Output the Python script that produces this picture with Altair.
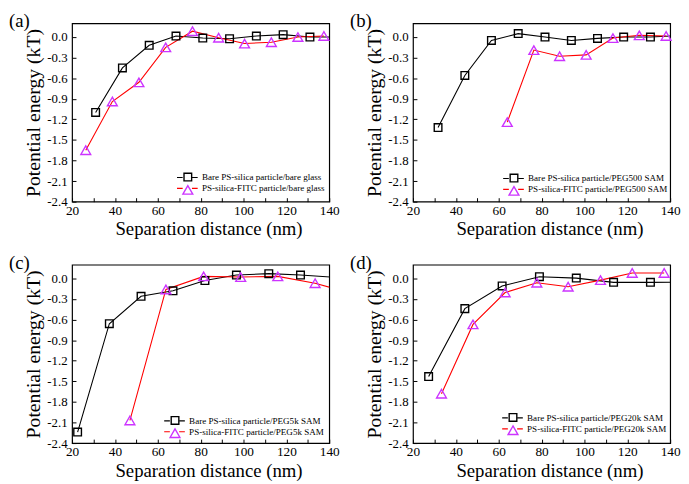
import altair as alt
import pandas as pd

FONT = "Liberation Serif"
MAGENTA = "#CC33FF"

# ---------------- data ----------------
x_ticks = [20, 40, 60, 80, 100, 120, 140]
x_minor = [20, 30, 40, 50, 60, 70, 80, 90, 100, 110, 120, 130, 140]
y_ticks = [-2.4, -2.1, -1.8, -1.5, -1.2, -0.9, -0.6, -0.3, 0.0]

# (a) bare glass
a_bare_label = "Bare PS-silica particle/bare glass"
a_bare_x = [31.0, 43.5, 56.0, 68.5, 81.0, 93.5, 106.0, 118.5, 131.0, 143.5]
a_bare_y = [-1.10, -0.45, -0.12, 0.015, -0.015, -0.025, 0.015, 0.035, 0.0, 0.0]
a_fitc_label = "PS-silica-FITC particle/bare glass"
a_fitc_x = [26.4, 38.8, 51.2, 63.7, 76.2, 88.4, 100.5, 113.0, 125.4, 137.5]
a_fitc_y = [-1.65, -0.94, -0.66, -0.15, 0.085, -0.01, -0.095, -0.075, 0.0, 0.015]

# (b) PEG500 SAM
b_bare_label = "Bare PS-silica particle/PEG500 SAM"
b_bare_x = [31.7, 44.2, 56.6, 69.1, 81.6, 93.9, 106.1, 118.3, 130.8, 143.3]
b_bare_y = [-1.32, -0.56, -0.05, 0.05, 0.0, -0.05, -0.02, 0.0, 0.0, 0.02]
b_fitc_label = "PS-silica-FITC particle/PEG500 SAM"
b_fitc_x = [64.0, 76.4, 88.4, 100.8, 113.3, 125.6, 138.1]
b_fitc_y = [-1.24, -0.19, -0.28, -0.26, -0.015, 0.025, 0.015]

# (c) PEG5k SAM
c_bare_label = "Bare PS-silica particle/PEG5k SAM"
c_bare_x = [22.6, 37.4, 52.2, 67.1, 82.0, 96.7, 111.8, 126.6, 141.4]
c_bare_y = [-2.24, -0.66, -0.26, -0.18, -0.03, 0.05, 0.07, 0.05, 0.02]
c_fitc_label = "PS-silica-FITC particle/PEG5k SAM"
c_fitc_x = [47.0, 63.8, 81.4, 98.7, 116.0, 133.4, 150.8]
c_fitc_y = [-2.07, -0.16, 0.03, 0.02, 0.03, -0.07, -0.22]

# (d) PEG20k SAM
d_bare_label = "Bare PS-silica particle/PEG20k SAM"
d_bare_x = [27.3, 44.2, 61.6, 79.0, 96.2, 113.6, 130.8, 148.0]
d_bare_y = [-1.43, -0.44, -0.11, 0.025, 0.005, -0.057, -0.057, -0.055]
d_fitc_label = "PS-silica-FITC particle/PEG20k SAM"
d_fitc_x = [33.3, 48.0, 63.0, 77.8, 92.4, 107.5, 122.3, 137.2]
d_fitc_y = [-1.68, -0.67, -0.205, -0.062, -0.12, -0.024, 0.08, 0.08]

# ---------------- styling ----------------
W, H = 261, 181
DASH = "M-2.33,0H-1.05M1.05,0H2.33"
ylabel_expr = "datum.value < 0 ? '-' + format(-datum.value, '.1f') : format(datum.value, '.1f')"

AX_FONT = dict(labelFont=FONT, titleFont=FONT, labelColor="black", titleColor="black",
               titleFontWeight="normal")


def legend_params(lx, ly, visible_labels, symbol_type=None, sw=1.3):
    p = dict(
        orient="none", legendX=lx, legendY=ly, title=None, padding=0,
        symbolSize=81, symbolStrokeWidth=sw, symbolFillColor="transparent",
        symbolOpacity=1, labelFont=FONT, labelFontSize=9.2, labelColor="black",
        labelOffset=9.3, rowPadding=-2, labelLimit=0,
        labelOpacity=1 if visible_labels else 0,
    )
    if symbol_type:
        p["symbolType"] = symbol_type
    return p


def panel(tag, lab1, x1, y1, lab2, x2, y2, lx, ly):
    df = pd.DataFrame({
        "x": x1 + x2,
        "y": y1 + y2,
        "series": [lab1] * len(x1) + [lab2] * len(x2),
    })
    dom = [lab1, lab2]
    xs = alt.Scale(domain=[20, 140], nice=False, zero=False)
    ys = alt.Scale(domain=[-2.4, 0.2], nice=False, zero=False)
    base = alt.Chart(df)

    main_x = alt.X("x:Q", scale=xs, axis=alt.Axis(
        values=x_ticks, title="Separation distance (nm)", ticks=False, tickSize=0,
        domain=False, grid=False, labelPadding=2, titlePadding=3, titleX=W / 2 + 8,
        labelFontSize=13.5, titleFontSize=19, labelFlush=False, **AX_FONT))
    main_y = alt.Y("y:Q", scale=ys, axis=alt.Axis(
        values=y_ticks, title="Potential energy (kT)", ticks=False, tickSize=0,
        domain=False, grid=False, labelPadding=5, titlePadding=3,
        labelFontSize=13, titleFontSize=20, labelExpr=ylabel_expr, labelFlush=False,
        **AX_FONT))
    tick_x = alt.X("x:Q", scale=xs, axis=alt.Axis(
        orient="bottom", values=x_minor, offset=-4, tickSize=4, labels=False,
        domain=False, grid=False, title=None, tickColor="black", tickWidth=1))
    tick_y = alt.Y("y:Q", scale=ys, axis=alt.Axis(
        orient="left", values=y_ticks, offset=-4, tickSize=4, labels=False,
        domain=False, grid=False, title=None, tickColor="black", tickWidth=1))

    lines = base.transform_calculate(seriesA="datum.series + ' '").mark_line(
        clip=True, strokeWidth=1.1).encode(
        x=main_x, y=main_y,
        stroke=alt.Stroke("seriesA:N",
                          scale=alt.Scale(domain=[lab1 + " ", lab2 + " "], range=["black", "red"]),
                          legend=alt.Legend(**legend_params(lx, ly, True, DASH, 1.2))),
        order="x:Q",
    )
    legB = legend_params(lx, ly, False, None, 1.4)
    pts = base.transform_filter("datum.x <= 140").mark_point(
        filled=False, strokeWidth=1.4, opacity=1).encode(
        x=tick_x, y=tick_y,
        color=alt.Color("series:N", scale=alt.Scale(domain=dom, range=["black", MAGENTA]),
                        legend=alt.Legend(**legB)),
        shape=alt.Shape("series:N", scale=alt.Scale(domain=dom, range=["square", "triangle-up"]),
                        legend=alt.Legend(**legB)),
        size=alt.Size("series:N", scale=alt.Scale(domain=dom, range=[60, 100]), legend=None),
    )
    tag_layer = alt.Chart(pd.DataFrame({"t": [tag]})).mark_text(
        align="left", baseline="top", font=FONT, fontSize=19, color="black").encode(
        x=alt.value(-64), y=alt.value(-11), text="t:N")

    return alt.layer(lines, pts, tag_layer).resolve_axis(
        x="independent", y="independent").properties(width=W, height=H)


pa = panel("(a)", a_bare_label, a_bare_x, a_bare_y, a_fitc_label, a_fitc_x, a_fitc_y, 111.5, 151)
pb = panel("(b)", b_bare_label, b_bare_x, b_bare_y, b_fitc_label, b_fitc_x, b_fitc_y, 96.5, 152)
pc = panel("(c)", c_bare_label, c_bare_x, c_bare_y, c_fitc_label, c_fitc_x, c_fitc_y, 98.5, 153)
pd_ = panel("(d)", d_bare_label, d_bare_x, d_bare_y, d_fitc_label, d_fitc_x, d_fitc_y, 95.5, 150)

chart = alt.concat(pa, pb, pc, pd_, columns=2, spacing={"row": 13, "column": 9}).resolve_scale(
    color="independent", stroke="independent", shape="independent", size="independent",
).properties(padding=0, background="white").configure(
    font=FONT
).configure_view(
    stroke="black", strokeWidth=1.2
).configure_axis(**AX_FONT).configure_legend(labelFont=FONT)

chart.save("out.html", embed_options={"renderer": "svg", "actions": False})
